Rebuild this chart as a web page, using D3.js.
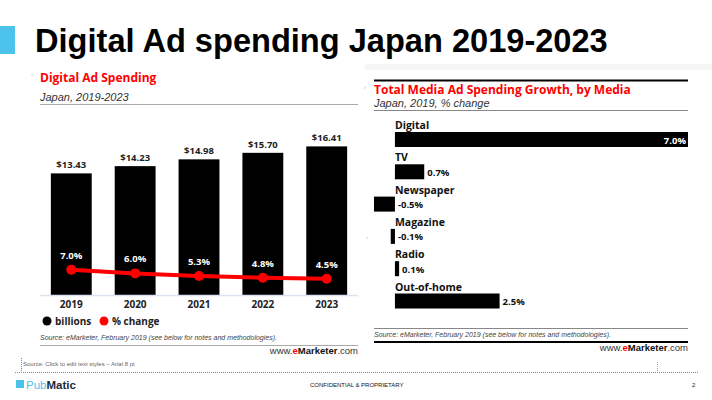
<!DOCTYPE html>
<html>
<head>
<meta charset="utf-8">
<script src="https://cdn.jsdelivr.net/npm/d3@7"></script>
<style>
  body { margin: 0; background: #fff; }
  svg { display: block; }
</style>
</head>
<body>
<div id="container"></div>
<script>
/* CONSTANTS AND GLOBALS */
const width = 712,
  height = 400;

/* DATA */
const years = ["2019", "2020", "2021", "2022", "2023"];
const spend = [13.43, 14.23, 14.98, 15.70, 16.41];   // billions
const change = [7.0, 6.0, 5.3, 4.8, 4.5];            // % change
const media = ["Digital", "TV", "Newspaper", "Magazine", "Radio", "Out-of-home"];
const growth = [7.0, 0.7, -0.5, -0.1, 0.1, 2.5];     // % change 2019

const emFont = "'Open Sans', 'DejaVu Sans', sans-serif";
const arial = "'Liberation Sans', Arial, sans-serif";

const svg = d3.select("#container")
  .append("svg")
  .attr("width", width)
  .attr("height", height)

// Slide header ---------------------
svg.append("rect")
  .attr("x", 0).attr("y", 26)
  .attr("width", 15).attr("height", 28)
  .attr("fill", "#4cc3ea");

svg.append("text")
  .attr("x", 35).attr("y", 52)
  .attr("font-family", arial)
  .attr("font-weight", "bold")
  .attr("font-size", 32.6)
  .attr("fill", "#000")
  .text("Digital Ad spending Japan 2019-2023");

// LEFT CHART: Digital Ad Spending ---------------------
const left = svg.append("g");

left.append("text")
  .attr("x", 31).attr("y", 76)
  .attr("font-size", 6).attr("fill", "#aaa")
  .text("›");

left.append("text")
  .attr("x", 40).attr("y", 82)
  .attr("font-family", emFont).attr("font-weight", "bold")
  .attr("font-size", 12).attr("fill", "#ff0000")
  .text("Digital Ad Spending");

left.append("text")
  .attr("x", 40).attr("y", 101)
  .attr("font-family", arial).attr("font-style", "italic")
  .attr("font-size", 11).attr("fill", "#333")
  .text("Japan, 2019-2023");

left.append("line")
  .attr("x1", 40).attr("x2", 358)
  .attr("y1", 104.5).attr("y2", 104.5)
  .attr("stroke", "#aaa").attr("stroke-width", 1);

const xBand = d3.scaleBand()
  .domain(years)
  .range([40, 358])
  .paddingInner(0.36)
  .paddingOuter(0.17);

const ySpend = d3.scaleLinear()
  .domain([0, 18])
  .range([295, 132]);

const yChange = d3.scaleLinear()
  .domain([0, 10])
  .range([295, 259]);

const spendRows = years.map((y, i) => ({ year: y, spend: spend[i], change: change[i] }));

left.selectAll(".bar")
  .data(spendRows)
  .join("rect")
  .attr("class", "bar")
  .attr("x", d => xBand(d.year))
  .attr("y", d => ySpend(d.spend))
  .attr("width", xBand.bandwidth())
  .attr("height", d => ySpend(0) - ySpend(d.spend))
  .attr("fill", "#000");

left.selectAll(".barLabel")
  .data(spendRows)
  .join("text")
  .attr("class", "barLabel")
  .attr("x", d => xBand(d.year) + xBand.bandwidth() / 2)
  .attr("y", d => ySpend(d.spend) - 5)
  .attr("text-anchor", "middle")
  .attr("font-family", emFont).attr("font-weight", "bold")
  .attr("font-size", 9.5).attr("fill", "#222")
  .text(d => "$" + d.spend.toFixed(2));

// baseline
left.append("line")
  .attr("x1", 40).attr("x2", 358)
  .attr("y1", ySpend(0) + 0.5).attr("y2", ySpend(0) + 0.5)
  .attr("stroke", "#dce3ef").attr("stroke-width", 1.5);

// x axis labels
const xAxis = d3.axisBottom(xBand).tickSize(0).tickPadding(6);
left.append("g")
  .attr("transform", `translate(0,${ySpend(0)})`)
  .call(xAxis)
  .call(g => g.select(".domain").remove())
  .call(g => g.selectAll("text")
    .attr("font-family", emFont).attr("font-weight", "bold")
    .attr("font-size", 10).attr("fill", "#222"));

// % change line
const line = d3.line()
  .x(d => xBand(d.year) + xBand.bandwidth() / 2)
  .y(d => yChange(d.change));

left.append("path")
  .datum(spendRows)
  .attr("d", line)
  .attr("fill", "none")
  .attr("stroke", "#ff0000")
  .attr("stroke-width", 4);

left.selectAll(".dot")
  .data(spendRows)
  .join("circle")
  .attr("class", "dot")
  .attr("cx", d => xBand(d.year) + xBand.bandwidth() / 2)
  .attr("cy", d => yChange(d.change))
  .attr("r", 5)
  .attr("fill", "#ff0000");

left.selectAll(".pctLabel")
  .data(spendRows)
  .join("text")
  .attr("class", "pctLabel")
  .attr("x", d => xBand(d.year) + xBand.bandwidth() / 2)
  .attr("y", d => yChange(d.change) - 11)
  .attr("text-anchor", "middle")
  .attr("font-family", emFont).attr("font-weight", "bold")
  .attr("font-size", 9.5).attr("fill", "#fff")
  .text(d => d.change.toFixed(1) + "%");

// legend
const legend = [
  { label: "billions", color: "#000", x: 47 },
  { label: "% change", color: "#ff0000", x: 104 }
];
const lg = left.selectAll(".legend")
  .data(legend)
  .join("g")
  .attr("class", "legend")
  .attr("transform", d => `translate(${d.x},321)`);
lg.append("circle").attr("r", 4.5).attr("fill", d => d.color);
lg.append("text")
  .attr("x", 8).attr("y", 3.5)
  .attr("font-family", emFont).attr("font-weight", "bold")
  .attr("font-size", 10).attr("fill", "#222")
  .text(d => d.label);

// source block
function sourceBlock(g, x1, x2, ySrc, yRule, ruleColor, ruleWidth, yWww, topRule) {
  if (topRule !== null) {
    g.append("line")
      .attr("x1", x1).attr("x2", x2)
      .attr("y1", topRule).attr("y2", topRule)
      .attr("stroke", "#888").attr("stroke-width", 1);
  }
  g.append("text")
    .attr("x", x1).attr("y", ySrc)
    .attr("font-family", arial).attr("font-style", "italic")
    .attr("font-size", 7).attr("fill", "#444")
    .text("Source: eMarketer, February 2019 (see below for notes and methodologies).");
  g.append("line")
    .attr("x1", x1).attr("x2", x2)
    .attr("y1", yRule).attr("y2", yRule)
    .attr("stroke", ruleColor).attr("stroke-width", ruleWidth);
  const t = g.append("text")
    .attr("x", x2).attr("y", yWww)
    .attr("text-anchor", "end")
    .attr("font-family", arial)
    .attr("font-size", 9.5).attr("fill", "#333");
  t.append("tspan").text("www.");
  t.append("tspan").attr("font-weight", "bold").attr("fill", "#ff0000").text("e");
  t.append("tspan").attr("font-weight", "bold").attr("fill", "#111").text("Marketer");
  t.append("tspan").text(".com");
}

sourceBlock(left, 40, 358, 340, 345.5, "#aaa", 1, 354, null);

// RIGHT CHART: Total Media Ad Spending Growth ---------------------
const right = svg.append("g");

right.append("rect")
  .attr("x", 365).attr("y", 64)
  .attr("width", 347).attr("height", 6)
  .attr("fill", "#f5f5f5");

right.append("line")
  .attr("x1", 374).attr("x2", 688)
  .attr("y1", 80.5).attr("y2", 80.5)
  .attr("stroke", "#000").attr("stroke-width", 2);

right.append("text")
  .attr("x", 364).attr("y", 89)
  .attr("font-size", 6).attr("fill", "#aaa")
  .text("›");
right.append("text")
  .attr("x", 366).attr("y", 239)
  .attr("font-size", 6).attr("fill", "#aaa")
  .text("›");

right.append("text")
  .attr("x", 374).attr("y", 94)
  .attr("font-family", emFont).attr("font-weight", "bold")
  .attr("font-size", 12).attr("fill", "#ff0000")
  .text("Total Media Ad Spending Growth, by Media");

right.append("text")
  .attr("x", 374).attr("y", 107)
  .attr("font-family", arial).attr("font-style", "italic")
  .attr("font-size", 11).attr("fill", "#333")
  .text("Japan, 2019, % change");

right.append("line")
  .attr("x1", 374).attr("x2", 688)
  .attr("y1", 110.5).attr("y2", 110.5)
  .attr("stroke", "#888").attr("stroke-width", 1);

const xGrowth = d3.scaleLinear()
  .domain([-0.5, 7.0])
  .range([374, 688]);

const yMedia = d3.scaleBand()
  .domain(media)
  .range([116, 116 + 32.3 * media.length]);

const mediaRows = media.map((m, i) => ({ name: m, value: growth[i] }));

right.selectAll(".catLabel")
  .data(mediaRows)
  .join("text")
  .attr("class", "catLabel")
  .attr("x", xGrowth(0))
  .attr("y", d => yMedia(d.name) + 13)
  .attr("font-family", emFont).attr("font-weight", "bold")
  .attr("font-size", 10.5).attr("fill", "#111")
  .text(d => d.name);

right.selectAll(".hbar")
  .data(mediaRows)
  .join("rect")
  .attr("class", "hbar")
  .attr("x", d => xGrowth(Math.min(0, d.value)))
  .attr("y", d => yMedia(d.name) + 16)
  .attr("width", d => Math.max(3, Math.abs(xGrowth(d.value) - xGrowth(0))))
  .attr("height", 15)
  .attr("fill", "#000");

const maxGrowth = d3.max(growth);
right.selectAll(".valLabel")
  .data(mediaRows)
  .join("text")
  .attr("class", "valLabel")
  .attr("x", d => d.value === maxGrowth ? xGrowth(d.value) - 2 : xGrowth(Math.max(0, d.value)) + 3)
  .attr("y", d => yMedia(d.name) + 27.5)
  .attr("text-anchor", d => d.value === maxGrowth ? "end" : "start")
  .attr("font-family", emFont).attr("font-weight", "bold")
  .attr("font-size", 9.5).attr("fill", d => d.value === maxGrowth ? "#fff" : "#111")
  .text(d => d.value.toFixed(1) + "%");

sourceBlock(right, 374, 688, 337, 342, "#000", 2, 351, 328.5);

// SLIDE FOOTER ---------------------
svg.append("path")
  .attr("d", "M21.5,358 V372.5 H698")
  .attr("fill", "none")
  .attr("stroke", "#555")
  .attr("stroke-width", 0.7)
  .attr("stroke-dasharray", "1,1");
svg.append("line")
  .attr("x1", 15).attr("x2", 21)
  .attr("y1", 372.5).attr("y2", 372.5)
  .attr("stroke", "#555").attr("stroke-width", 0.7)
  .attr("stroke-dasharray", "1,1");
svg.append("line")
  .attr("x1", 657.5).attr("x2", 657.5)
  .attr("y1", 362).attr("y2", 372)
  .attr("stroke", "#777").attr("stroke-width", 0.7)
  .attr("stroke-dasharray", "1,1");

svg.append("text")
  .attr("x", 23).attr("y", 366)
  .attr("font-family", arial)
  .attr("font-size", 6).attr("fill", "#666")
  .text("Source: Click to edit text styles – Arial 8 pt");

svg.append("rect")
  .attr("x", 16).attr("y", 380)
  .attr("width", 8).attr("height", 8)
  .attr("fill", "#4cc3ea");
const pm = svg.append("text")
  .attr("x", 26).attr("y", 388.5)
  .attr("font-family", arial)
  .attr("font-size", 11.5);
pm.append("tspan").attr("fill", "#4cc3ea").text("Pub");
pm.append("tspan").attr("fill", "#1a2a3a").attr("font-weight", "bold").text("Matic");

svg.append("text")
  .attr("x", 310).attr("y", 387)
  .attr("font-family", arial)
  .attr("font-size", 6).attr("fill", "#111")
  .text("CONFIDENTIAL & PROPRIETARY");

svg.append("text")
  .attr("x", 692).attr("y", 387)
  .attr("font-family", arial)
  .attr("font-size", 6).attr("fill", "#111")
  .text("2");
</script>
</body>
</html>
